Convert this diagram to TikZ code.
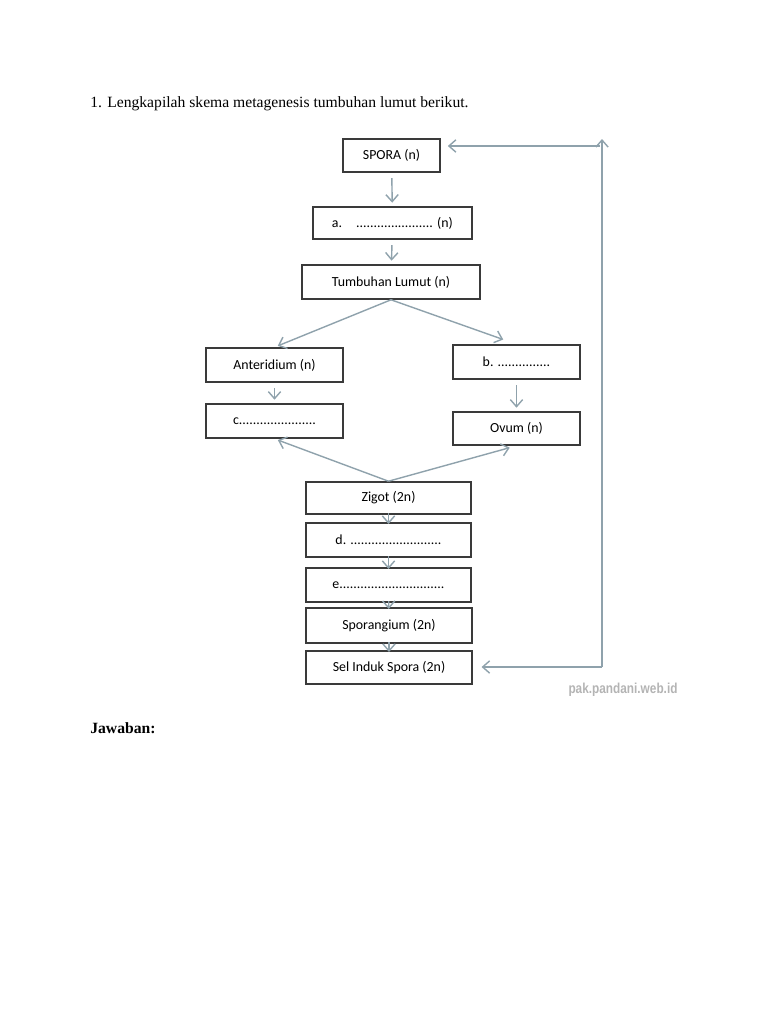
\documentclass[tikz,border=0pt]{standalone}
\usepackage{fontspec}
\setmainfont{Liberation Serif}
\newfontfamily\boxfont{Carlito}
\newfontfamily\markfont{Liberation Sans}
\usepackage{xcolor}
\usetikzlibrary{arrows.meta, calc}

\definecolor{arrowgray}{HTML}{8FA2AC}
\definecolor{boxline}{HTML}{3A3A3A}
\definecolor{markgray}{HTML}{B4B4B4}

\begin{document}
\begin{tikzpicture}[x=0.02cm, y=-0.02cm,
    stage/.style = {draw=boxline, line width=0.9pt, fill=white,
        inner sep=0pt, font=\boxfont\fontsize{7.9}{9}\selectfont},
    flow/.style = {draw=arrowgray, line width=0.8pt,
        -{Straight Barb[length=4pt, width=7pt]}, shorten >=2pt, shorten <=3pt}]

\useasboundingbox (0,0) rectangle (768,1024);

% Question
\node[anchor=base west, inner sep=0pt, font=\fontsize{8.9}{10.7}\selectfont] (soal) at (90,108)
    {1. Lengkapilah skema metagenesis tumbuhan lumut berikut.};

% Stages from spore to moss plant
\node[stage, minimum width=1.94cm, minimum height=0.66cm] (spora) at (391.5,155.5) {SPORA (n)};
\node[stage, minimum width=3.18cm, minimum height=0.64cm] (a) at (392.5,223) {a.\quad ...................... (n)};
\node[stage, minimum width=3.56cm, minimum height=0.68cm] (lumut) at (391,282) {Tumbuhan Lumut (n)};

% Male branch
\node[stage, minimum width=2.74cm, minimum height=0.68cm] (anteridium) at (274.5,365) {Anteridium (n)};
\node[stage, minimum width=2.74cm, minimum height=0.68cm] (c) at (274.5,421) {c......................};

% Female branch
\node[stage, minimum width=2.54cm, minimum height=0.68cm] (b) at (516.5,362) {b. ...............};
\node[stage, minimum width=2.54cm, minimum height=0.66cm] (ovum) at (516.5,428.5) {Ovum (n)};

% Stages from zygote to spore mother cell
\node[stage, minimum width=3.30cm, minimum height=0.64cm] (zigot) at (388.5,498) {Zigot (2n)};
\node[stage, minimum width=3.30cm, minimum height=0.68cm] (d) at (388.5,540) {d. ..........................};
\node[stage, minimum width=3.30cm, minimum height=0.68cm] (e) at (388.5,585) {e..............................};
\node[stage, minimum width=3.32cm, minimum height=0.70cm] (sporangium) at (389,625.5) {Sporangium (2n)};
\node[stage, minimum width=3.32cm, minimum height=0.66cm] (selinduk) at (389,667.5) {Sel Induk Spora (2n)};

% Return line
\coordinate (kanan) at (602,667);
\coordinate (atas) at (602,139);
\coordinate (balik) at (600,146);

% Arrows
\draw[flow] (spora) -- (a);
\draw[flow] (a) -- (lumut);
\draw[flow, shorten <=0pt] (lumut.south) -- (anteridium.north);
\draw[flow, shorten <=0pt, shorten >=8pt] (lumut.south) -- (b.north);
\draw[flow] (anteridium) -- (c);
\draw[flow] (b) -- (ovum);
\draw[flow, shorten <=0pt] (zigot.north) -- (c.south);
\draw[flow, shorten <=0pt, shorten >=4pt] (zigot.north) -- (ovum.south);
\draw[flow, shorten <=-1pt, shorten >=-1pt] (zigot) -- (d);
\draw[flow, shorten <=-1pt, shorten >=-1pt] (d) -- (e);
\draw[flow, shorten <=-1pt, shorten >=-1pt] (e) -- (sporangium);
\draw[flow, shorten <=-1pt, shorten >=-1pt] (sporangium) -- (selinduk);
\draw[flow, shorten <=0pt, shorten >=0pt] (kanan) -- (atas);
\draw[flow, shorten <=0pt, shorten >=5pt] (kanan) -- (kanan -| selinduk.east);
\draw[flow, shorten <=0pt, shorten >=4pt] (balik) -- (balik -| spora.east);

% Source mark
\node[xscale=0.82, text=markgray, font=\markfont\bfseries\fontsize{8.2}{9}\selectfont] (sumber) at (623,690) {pak.pandani.web.id};

% Answer
\node[anchor=base west, inner sep=0pt, font=\bfseries\fontsize{8.9}{10.7}\selectfont] (jawaban) at (90,733) {Jawaban:};
\end{tikzpicture}
\end{document}
